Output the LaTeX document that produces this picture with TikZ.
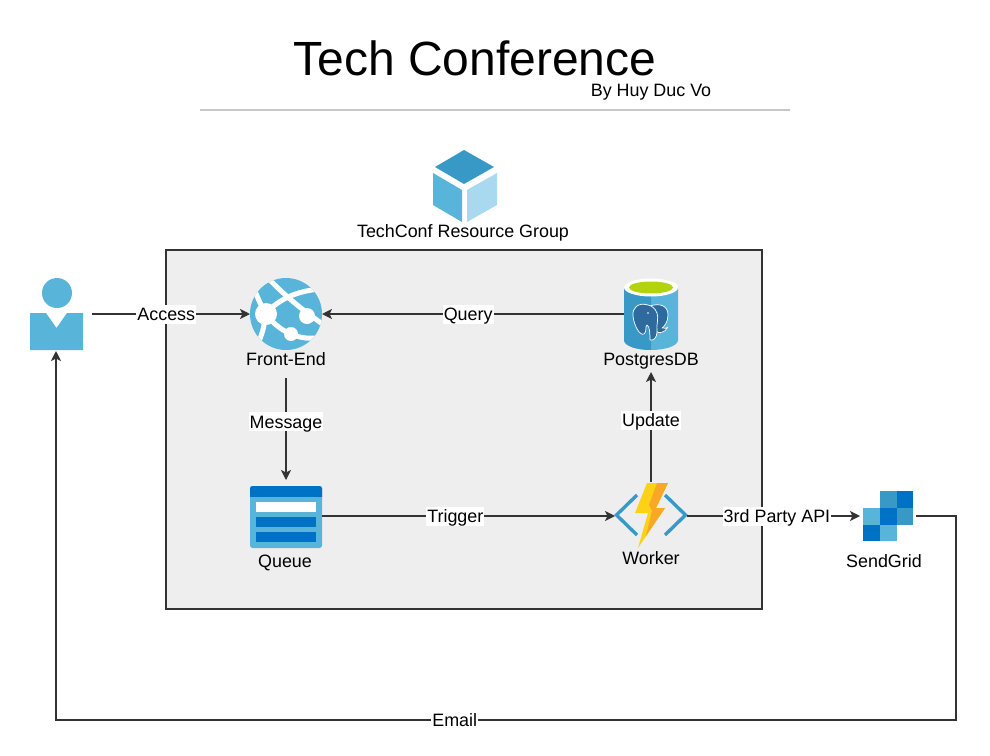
\documentclass[tikz,border=0pt]{standalone}
\usepackage{fontspec}
\setmainfont{Liberation Sans}
\usetikzlibrary{arrows.meta}
\definecolor{azlight}{HTML}{59B4D9}
\definecolor{azmid}{HTML}{3999C6}
\definecolor{azdark}{HTML}{0072C6}
\definecolor{azpale}{HTML}{A9D9EE}
\definecolor{edgecol}{HTML}{333333}
\definecolor{groupfill}{HTML}{EEEEEE}
\definecolor{elephant}{HTML}{2F6A9E}
\definecolor{lime}{HTML}{B4D30F}
\definecolor{boltmain}{HTML}{FCD116}
\definecolor{boltside}{HTML}{F9A825}
\tikzset{
  x=1pt,y=-1pt,
  every node/.style={font=\fontsize{17.9}{20}\selectfont,text=black},
  iconbox/.style={inner sep=0pt,outer sep=0pt,minimum width=#1},
  caption/.style={inner sep=0pt,outer sep=0pt,text height=15pt,text depth=2pt},
  link/.style={draw=edgecol,line width=1.6pt,-{Stealth[length=10pt,width=10pt,inset=2.5pt]}},
  tag/.style={fill=white,inner sep=1pt,text height=15pt,text depth=2pt},
  chevron/.style={line width=3.4pt,draw=azmid,line cap=butt,line join=miter},
}
\begin{document}
\begin{tikzpicture}
\useasboundingbox[fill=white] (0,0) rectangle (990,755);

% title
\node[inner sep=0pt,font=\fontsize{48}{50}\selectfont] (title) at (475,58) {Tech Conference};
\node[caption] (byline) at (651,90) {By Huy Duc Vo};
\coordinate (ruleL) at (200,110);
\coordinate (ruleR) at (790,110);
\draw[draw=black!22,line width=1.5pt] (ruleL) -- (ruleR);

% resource group
\fill[azmid] (464,150) -- (494,167) -- (464,184) -- (435,167) -- cycle;
\fill[azlight] (433,173) -- (462,190) -- (462,222) -- (433,205) -- cycle;
\fill[azpale] (467,190) -- (497,173) -- (497,205) -- (467,222) -- cycle;
\node[caption] (rgtext) at (463,231) {TechConf Resource Group};
\node[draw=edgecol,fill=groupfill,line width=2pt,inner sep=0pt,minimum width=596pt,minimum height=359pt] (group) at (464,429.5) {};

% user
\fill[azlight] (57,293) circle[radius=15];
\fill[azlight] (30,313) -- (46,313) -- (56.5,328) -- (67,313) -- (83,313) -- (83,350) -- (30,350) -- cycle;
\node[iconbox=72pt,minimum height=74pt] (user) at (56,314) {};

% front-end
\begin{scope}
  \clip (286,314) circle[radius=36];
  \fill[azlight] (250,278) rectangle (322,350);
  \begin{scope}[draw=white,line width=5pt]
    \draw (270,280) .. controls (285,296) and (305,312) .. (324,325);
    \draw (254,288) .. controls (258,300) and (263,308) .. (265,314) .. controls (265,325) and (262,335) .. (257,346);
    \draw (265,314) .. controls (280,298) and (298,291) .. (320,289);
    \draw (265,314) .. controls (275,325) and (283,331) .. (291,334) .. controls (298,337) and (306,339) .. (316,338);
  \end{scope}
  \fill[white] (266,314) circle[radius=11];
  \fill[white] (307,316) circle[radius=8];
  \fill[white] (291,334) circle[radius=7];
\end{scope}
\node[iconbox=72pt,minimum height=72pt] (front) at (286,314) {};
\node[caption,minimum height=38pt] (frontlbl) at (286,359) {Front-End};

% postgres
\fill[azlight] (624,287) -- (678,287) -- (678,340) .. controls (678,346) and (665,350) .. (651,350) .. controls (637,350) and (624,346) .. (624,340) -- cycle;
\fill[azmid] (624,287) -- (651,287) -- (651,350) .. controls (637,350) and (624,346) .. (624,340) -- cycle;
\fill[white] (651,287.5) ellipse[x radius=27,y radius=9];
\fill[lime] (651,287.5) ellipse[x radius=22,y radius=6];
\begin{scope}[draw=white,line width=.7pt,fill=elephant,line join=round]
  \filldraw (650,306) .. controls (659,303) and (668,305) .. (668,315) .. controls (668,322) and (664,327) .. (662,328) .. controls (665,329) and (667,328) .. (668,327) .. controls (665,333) and (658,334) .. (656,331) .. controls (655,326) and (657,318) .. (656,314) .. controls (655,310) and (652,307) .. (650,306) -- cycle;
  \filldraw (648,305) .. controls (638,302) and (632,308) .. (633,316) .. controls (634,326) and (640,336) .. (644,334) .. controls (647,332) and (645,326) .. (647,325) .. controls (650,326) and (650,336) .. (650,340) .. controls (653,341) and (657,338) .. (657,332) .. controls (656,325) and (659,318) .. (657,313) .. controls (655,308) and (652,306) .. (648,305) -- cycle;
\end{scope}
\fill[white] (648,313) circle[radius=.9];
\node[iconbox=54pt,minimum height=72pt] (pg) at (651,314) {};
\node[caption,minimum height=26pt] (pglbl) at (651,359) {PostgresDB};

% queue
\fill[azlight,rounded corners=2.5pt] (250,486) rectangle (322,548);
\fill[azdark,rounded corners=2.5pt] (250,486) rectangle (322,500);
\fill[azlight] (250,497) rectangle (322,501);
\fill[white] (256,502) rectangle (316,512);
\fill[azdark] (256,517) rectangle (316,527);
\fill[azdark] (256,532) rectangle (316,542);
\node[iconbox=72pt,minimum height=72pt] (queue) at (286,516) {};
\node[caption] (queuelbl) at (285,561) {Queue};

% worker
\node[caption] (workerlbl) at (651,558) {Worker};
\draw[chevron] (637,495) -- (616.5,515) -- (637,535);
\draw[chevron] (665,495) -- (685.5,515) -- (665,535);
\fill[boltmain] (647,483) -- (668,483) -- (656,508) -- (665,508) -- (638,548) -- (648,513) -- (635,513) -- cycle;
\fill[boltside] (657,483) -- (668,483) -- (656,508) -- (665,508) -- (646,536) -- (652,511) -- (649,505) -- cycle;
\node[iconbox=72pt,minimum height=68pt] (worker) at (651,516) {};

% sendgrid
\fill[azmid] (880,491) rectangle (897,508);
\fill[azdark] (897,491) rectangle (913,508);
\fill[azlight] (863,508) rectangle (880,525);
\fill[azdark] (880,508) rectangle (897,525);
\fill[azmid] (897,508) rectangle (913,525);
\fill[azdark] (863,525) rectangle (880,541);
\fill[azlight] (880,525) rectangle (897,541);
\node[iconbox=56pt,minimum height=56pt] (sg) at (888,516) {};
\node[caption] (sglbl) at (884,561) {SendGrid};

% connectors
\draw[link] (user.east) -- node[tag,pos=.47] (lblA) {Access} (front.west);
\draw[link] (pg.west) -- node[tag,pos=.516] (lblQ) {Query} (front.east);
\draw[link] (frontlbl.south) -- node[tag,pos=.43] (lblM) {Message} (queue.north);
\draw[link] (queue.east) -- node[tag,pos=.455] (lblT) {Trigger} (worker.west);
\draw[link] (worker.north) -- node[tag,pos=.56] (lblU) {Update} (pglbl.south);
\draw[link] (worker.east) -- node[tag,pos=.52] (lblP) {3rd Party API} (sg.west);
\coordinate (mailR) at (956,720);
\coordinate (mailL) at (user.south |- mailR);
\draw[link] (sg.east) -| (mailR) -- node[tag,pos=.557] (lblE) {Email} (mailL) -- (user.south);
\end{tikzpicture}
\end{document}
